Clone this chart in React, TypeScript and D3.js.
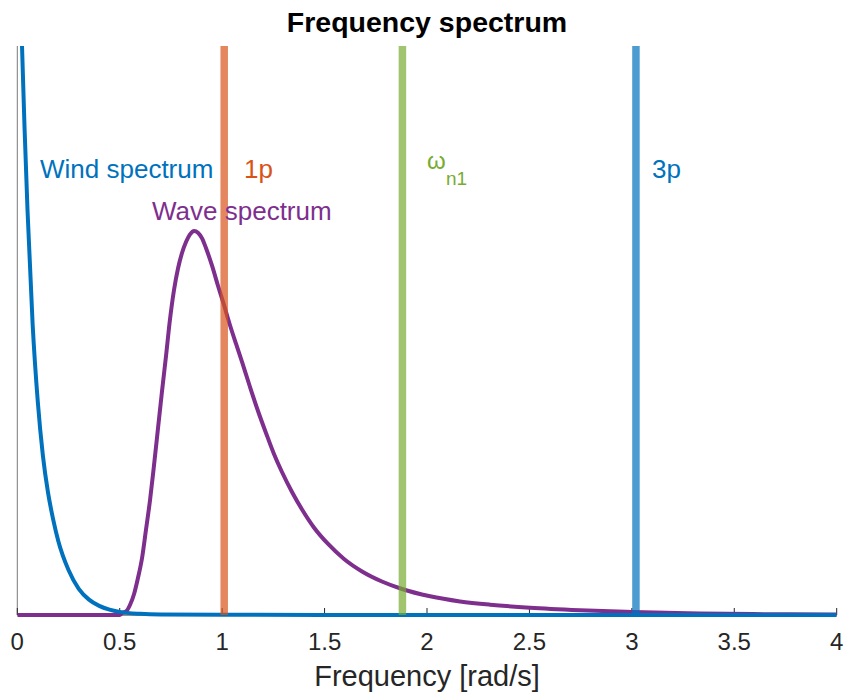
import React from "react";
import * as d3 from "d3";

// Wind spectrum samples (frequency in rad/s, normalised spectral density)
const windFreq = [0.015, 0.023, 0.035, 0.05, 0.075, 0.1, 0.125, 0.15, 0.175, 0.2, 0.25, 0.3, 0.35, 0.4, 0.45, 0.5, 0.6, 0.7, 1.0, 2.0, 4.0];
const windVal = [1.1, 1.0, 0.86, 0.71, 0.51, 0.375, 0.28, 0.215, 0.168, 0.13, 0.079, 0.046, 0.027, 0.016, 0.0095, 0.0055, 0.002, 0.0008, 0.0003, 0.0001, 0.0];

// Wave spectrum samples
const waveFreq = [
  0.0, 0.3, 0.5, 0.511, 0.531, 0.55, 0.57, 0.589, 0.609, 0.628, 0.648, 0.667, 0.687, 0.706, 0.726, 0.745,
  0.765, 0.785, 0.804, 0.824, 0.843, 0.863, 0.882, 0.902, 0.921, 0.951, 0.98, 1.009, 1.038, 1.068, 1.097, 1.136,
  1.175, 1.214, 1.253, 1.292, 1.341, 1.39, 1.448, 1.517, 1.595, 1.683, 1.78, 1.878, 2.015, 2.161, 2.308,
  2.503, 2.747, 3.006, 3.333, 3.674, 4.0,
];
const waveVal = [
  0.0, 0.0, 0.0, 0.0035, 0.0062, 0.0176, 0.0369, 0.065, 0.1002, 0.1494, 0.2021, 0.2619, 0.3286, 0.3919, 0.4552, 0.5185,
  0.5712, 0.6098, 0.6362, 0.656, 0.669, 0.675, 0.672, 0.662, 0.645, 0.6134, 0.5782, 0.5448, 0.5097, 0.4763, 0.4447, 0.4007,
  0.3585, 0.3199, 0.283, 0.2513, 0.2162, 0.1854, 0.1538, 0.1248, 0.0984, 0.0765, 0.0589, 0.0457, 0.0329, 0.0239, 0.0181,
  0.0128, 0.0084, 0.0051, 0.0028, 0.0014, 0.0007,
];

// Characteristic frequencies drawn as vertical markers
const markerNames = ["1p", "omega", "3p"];
const markerFreq = [1.01, 1.88, 3.02];

const xTicks = [0, 0.5, 1, 1.5, 2, 2.5, 3, 3.5, 4];

const W = 844;
const H = 694;
const left = 17.3;
const right = 836.7;
const top = 46;
const bottom = 615;

const FONT = "'Liberation Sans', Arial, Helvetica, sans-serif";

export default function App() {
  const x = d3.scaleLinear().domain([0, 4]).range([left, right]);
  const y = d3.scaleLinear().domain([0, 1]).range([bottom, top]);

  const line = d3
    .line<[number, number]>()
    .x((d) => x(d[0]))
    .y((d) => y(d[1]))
    .curve(d3.curveMonotoneX);

  const windPath = line(windFreq.map((f, i) => [f, windVal[i]] as [number, number])) || "";
  const wavePath = line(waveFreq.map((f, i) => [f, waveVal[i]] as [number, number])) || "";

  const markerColors = ["#D95319", "#77AC30", "#0072BD"];

  return (
    <div style={{ position: "absolute", left: 0, top: 0 }}>
      <svg width={W} height={H} style={{ display: "block", background: "#fff" }} fontFamily={FONT}>
        <defs>
          <clipPath id="plotClip">
            <rect x={left} y={top} width={right - left} height={bottom - top + 4} />
          </clipPath>
        </defs>

        {/* title */}
        <text x={(left + right) / 2} y={31.5} textAnchor="middle" fontSize={28.5} fontWeight="bold" fill="#000">
          Frequency spectrum
        </text>

        {/* y axis line */}
        <line x1={left} x2={left} y1={top} y2={bottom} stroke="#7a7a7a" strokeWidth={1} />
        {/* x axis line */}
        <line x1={left} x2={right} y1={bottom} y2={bottom} stroke="#262626" strokeWidth={1} />

        {/* x ticks (inward) */}
        {xTicks.map((t) => (
          <g key={t}>
            <line x1={x(t)} x2={x(t)} y1={bottom} y2={bottom - 7} stroke="#262626" strokeWidth={1} />
            <text x={x(t)} y={650} textAnchor="middle" fontSize={24} fill="#262626">
              {String(t)}
            </text>
          </g>
        ))}

        <text x={(left + right) / 2} y={686} textAnchor="middle" fontSize={29} fill="#262626">
          Frequency [rad/s]
        </text>

        <g clipPath="url(#plotClip)">
          <path d={wavePath} fill="none" stroke="#7E2F8E" strokeWidth={4} strokeLinejoin="round" />
          <path d={windPath} fill="none" stroke="#0072BD" strokeWidth={4} strokeLinejoin="round" />
          {markerFreq.map((f, i) => (
            <line
              key={markerNames[i]}
              x1={x(f)}
              x2={x(f)}
              y1={top}
              y2={bottom}
              stroke={markerColors[i]}
              strokeOpacity={0.7}
              strokeWidth={7.5}
            />
          ))}
        </g>

        {/* annotations */}
        <text x={40} y={178} fontSize={26} fill="#0072BD">
          Wind spectrum
        </text>
        <text x={152} y={220} fontSize={26} fill="#7E2F8E">
          Wave spectrum
        </text>
        <text x={244} y={178} fontSize={26} fill="#D95319">
          1p
        </text>
        <text x={427} y={169} fontSize={24} fill="#77AC30">
          ω
        </text>
        <text x={446} y={185} fontSize={19} fill="#77AC30">
          n1
        </text>
        <text x={652} y={178} fontSize={26} fill="#0072BD">
          3p
        </text>
      </svg>
    </div>
  );
}
